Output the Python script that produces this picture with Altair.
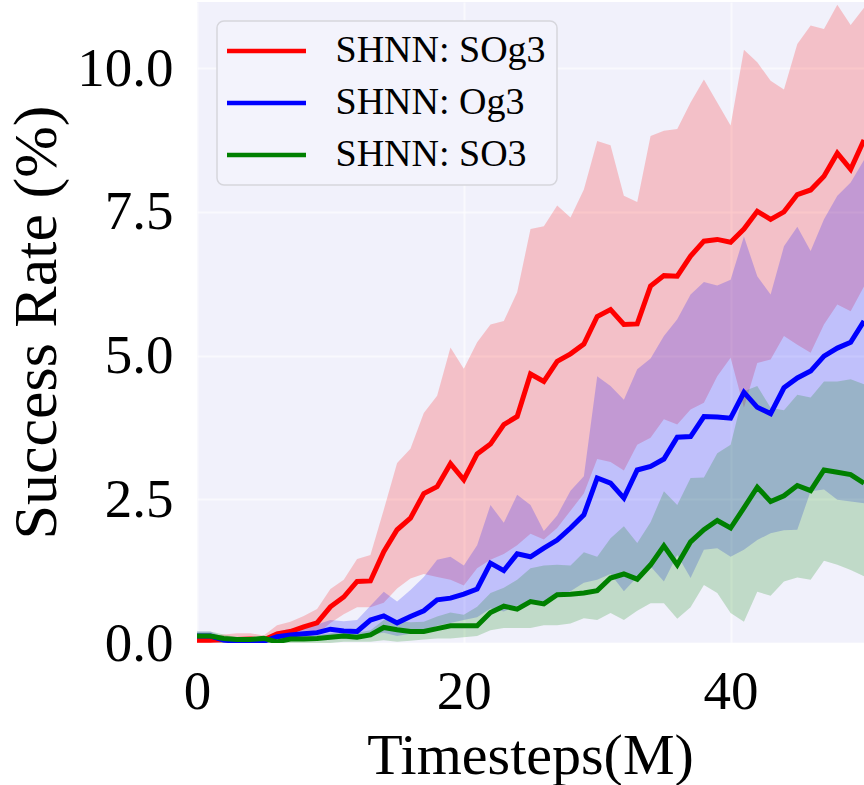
import altair as alt
import pandas as pd

steps = list(range(51))
series_names = ["SHNN: SOg3", "SHNN: Og3", "SHNN: SO3"]
series_colors = ["#ff0000", "#0000ff", "#008000"]

sog3_mean = [0.05, 0.05, 0.06, 0.06, 0.07, 0.05, 0.16, 0.2, 0.28, 0.35,
             0.63, 0.8, 1.07, 1.08, 1.59, 1.97, 2.17, 2.6, 2.72, 3.12,
             2.84, 3.29, 3.46, 3.8, 3.94, 4.68, 4.55, 4.9, 5.03, 5.2,
             5.68, 5.8, 5.54, 5.55, 6.21, 6.39, 6.38, 6.73, 6.99, 7.02,
             6.97, 7.2, 7.51, 7.37, 7.5, 7.8, 7.88, 8.12, 8.52, 8.24, 8.75]
sog3_hi = [0.1, 0.12, 0.15, 0.17, 0.17, 0.13, 0.31, 0.37, 0.47, 0.59,
           0.94, 1.1, 1.46, 1.53, 2.32, 3.13, 3.38, 4.0, 4.3, 5.14,
           4.77, 5.23, 5.54, 5.6, 6.1, 7.2, 7.25, 7.61, 7.4, 7.89,
           8.73, 8.66, 7.78, 7.67, 8.82, 8.91, 8.94, 9.4, 9.8, 9.4,
           9.0, 10.32, 10.1, 9.78, 9.63, 10.42, 10.74, 10.68, 11.1, 10.75, 11.05]
sog3_lo = [0.0, 0.0, 0.0, 0.0, 0.0, 0.0, 0.02, 0.05, 0.1, 0.15,
           0.35, 0.5, 0.62, 0.62, 0.7, 0.95, 1.12, 1.2, 1.15, 1.1,
           1.0, 1.3, 1.45, 1.55, 1.7, 1.9, 1.8, 2.0, 2.3, 2.6,
           3.2, 3.15, 3.0, 3.45, 3.57, 3.89, 3.8, 4.06, 4.18, 4.64,
           4.96, 4.09, 4.87, 4.93, 5.34, 5.19, 5.05, 5.54, 5.89, 5.77, 6.2]

og3_mean = [0.12, 0.12, 0.05, 0.03, 0.03, 0.03, 0.11, 0.14, 0.16, 0.18,
            0.24, 0.21, 0.2, 0.4, 0.47, 0.35, 0.46, 0.56, 0.75, 0.78,
            0.85, 0.94, 1.39, 1.26, 1.55, 1.5, 1.65, 1.79, 2.0, 2.23,
            2.87, 2.78, 2.52, 3.01, 3.07, 3.2, 3.58, 3.59, 3.94, 3.93,
            3.91, 4.36, 4.1, 3.99, 4.44, 4.61, 4.73, 4.99, 5.13, 5.23, 5.6]
og3_hi = [0.2, 0.2, 0.1, 0.08, 0.08, 0.08, 0.2, 0.25, 0.28, 0.32,
          0.4, 0.38, 0.4, 0.65, 0.89, 0.72, 0.92, 1.15, 1.45, 1.5,
          1.35, 1.7, 2.4, 2.09, 2.58, 2.4, 1.95, 2.22, 2.65, 2.9,
          4.64, 4.47, 4.23, 4.76, 4.95, 5.34, 5.63, 6.06, 6.28, 6.22,
          6.32, 7.07, 6.38, 6.06, 6.9, 7.24, 6.82, 7.37, 7.78, 8.01, 8.4]
og3_lo = [0.02, 0.02, 0.0, 0.0, 0.0, 0.0, 0.02, 0.04, 0.05, 0.06,
          0.08, 0.07, 0.06, 0.15, 0.18, 0.12, 0.16, 0.2, 0.3, 0.35,
          0.4, 0.45, 0.6, 0.55, 0.65, 0.7, 0.72, 0.8, 0.9, 1.05,
          1.1, 1.2, 0.9, 1.15, 1.33, 1.07, 1.53, 1.13, 1.62, 1.65,
          1.5, 1.62, 1.79, 1.91, 1.96, 1.97, 2.64, 2.67, 2.49, 2.46, 2.43]

so3_mean = [0.12, 0.12, 0.08, 0.06, 0.06, 0.08, 0.02, 0.07, 0.07, 0.08,
            0.1, 0.12, 0.1, 0.14, 0.27, 0.23, 0.2, 0.2, 0.25, 0.3,
            0.3, 0.3, 0.53, 0.64, 0.59, 0.72, 0.68, 0.84, 0.85, 0.87,
            0.91, 1.13, 1.2, 1.11, 1.36, 1.69, 1.36, 1.76, 1.97, 2.13,
            2.0, 2.35, 2.71, 2.46, 2.56, 2.74, 2.65, 3.01, 2.97, 2.93, 2.78]
so3_hi = [0.2, 0.2, 0.15, 0.1, 0.1, 0.12, 0.06, 0.12, 0.12, 0.14,
          0.17, 0.2, 0.18, 0.22, 0.4, 0.38, 0.36, 0.37, 0.46, 0.53,
          0.49, 0.63, 0.87, 0.96, 1.1, 1.3, 1.35, 1.36, 1.35, 1.58,
          1.5, 1.82, 2.03, 1.74, 2.1, 2.64, 2.4, 2.87, 2.88, 3.3,
          3.45, 4.38, 4.47, 4.09, 4.05, 4.32, 4.27, 4.55, 4.55, 4.59, 4.5]
so3_lo = [0.02, 0.02, 0.0, 0.0, 0.0, 0.0, 0.0, 0.0, 0.0, 0.0,
          0.0, 0.02, 0.02, 0.02, 0.05, 0.02, 0.04, 0.06, 0.08, 0.08,
          0.1, 0.12, 0.22, 0.26, 0.26, 0.26, 0.31, 0.31, 0.34, 0.43,
          0.4, 0.52, 0.4, 0.56, 0.69, 0.69, 0.42, 0.62, 1.01, 0.87,
          0.52, 0.37, 0.89, 0.82, 1.07, 1.14, 1.1, 1.43, 1.36, 1.27, 1.16]

x_ticks = [0, 20, 40]
y_ticks = [0, 2.5, 5, 7.5, 10]

rows = []
for k, (name, m, lo, hi) in enumerate(zip(
        series_names,
        [sog3_mean, og3_mean, so3_mean],
        [sog3_lo, og3_lo, so3_lo],
        [sog3_hi, og3_hi, so3_hi])):
    for s, a, b, c in zip(steps, m, lo, hi):
        rows.append({"step": s, "series": name, "order": k,
                     "mean": a, "lo": b, "hi": c})
df = pd.DataFrame(rows)

FONT = "Liberation Serif"

x_enc = alt.X("step:Q",
              scale=alt.Scale(domain=[0, 50], nice=False, zero=False),
              axis=alt.Axis(values=x_ticks, format="d", title="Timesteps(M)",
                            labelFlush=False, labelPadding=22,
                            titleX=333, titleY=130, titleBaseline="alphabetic"))
y_scale = alt.Scale(domain=[0, 11.15], nice=False, zero=False)
color_scale = alt.Scale(domain=series_names, range=series_colors)

areas = alt.Chart(df).mark_area(opacity=0.2, clip=True, interpolate="linear").encode(
    x=x_enc,
    y=alt.Y("lo:Q", scale=y_scale,
            axis=alt.Axis(values=y_ticks, format=".1f", title="Success Rate (%)",
                          labelPadding=24, labelFlush=False,
                          titleX=-161, titleY=320, titleAngle=270,
                          titleFontSize=62,
                          titleBaseline="middle", titleAlign="center")),
    y2="hi:Q",
    color=alt.Color("series:N", scale=color_scale, legend=None),
    order=alt.Order("order:Q"),
    detail="series:N",
)

lines = alt.Chart(df).mark_line(strokeWidth=5, clip=True).encode(
    x=alt.X("step:Q"),
    y=alt.Y("mean:Q"),
    color=alt.Color("series:N", scale=color_scale, sort=series_names,
                    legend=alt.Legend(
                        title=None, orient="none", legendX=20, legendY=19,
                        symbolType="M-4,0H4", symbolSize=390,
                        symbolStrokeWidth=4.5, symbolOffset=19.5,
                        labelOffset=50, labelFont=FONT, labelFontSize=38,
                        labelLimit=500,
                        labelColor="#000000", rowPadding=14,
                        padding=11, fillColor="#F3F3FC",
                        strokeColor="#D6D6DC", cornerRadius=7)),
    order=alt.Order("step:Q"),
)

chart = alt.layer(areas, lines).resolve_legend(color="independent").properties(
    width=667, height=641,
    autosize=alt.AutoSizeParams(type="none"),
    padding={"left": 197, "top": 2, "right": 0, "bottom": 142},
    background="#ffffff",
).configure_view(
    fill="#F1F1FB", strokeWidth=0
).configure_axis(
    labelFont=FONT, labelFontSize=55, labelColor="#000000",
    titleFont=FONT, titleFontSize=58, titleFontWeight="normal",
    titleColor="#000000", domain=False, ticks=False, tickSize=0,
    grid=True, gridColor="#ffffff", gridWidth=2, gridOpacity=0.55,
).configure_legend(
    strokeWidth=1.5
)

chart.save("out.html", embed_options={"renderer": "svg", "actions": False})
